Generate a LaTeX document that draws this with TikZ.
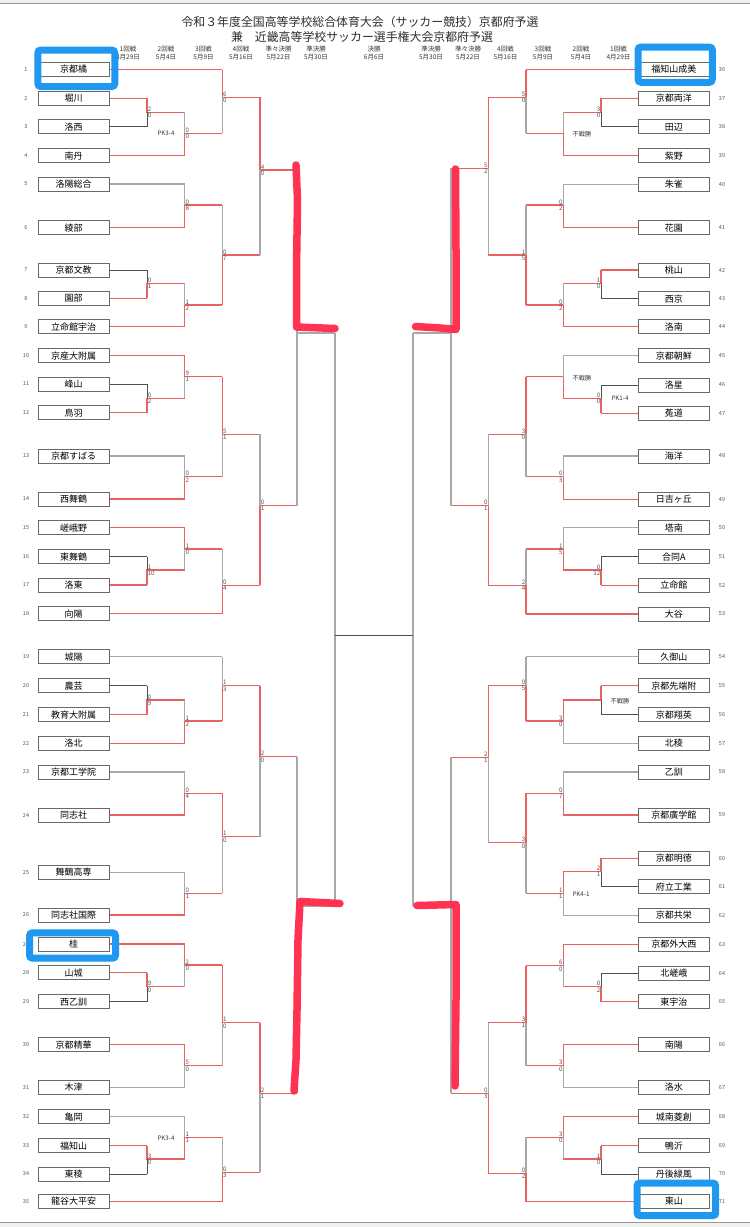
\documentclass[tikz,border=0pt]{standalone}
\usepackage{fontspec}
\setmainfont{Noto Sans CJK JP}
\definecolor{win}{RGB}{232,98,98}
\definecolor{losec}{RGB}{168,168,168}
\definecolor{darkc}{RGB}{80,80,80}
\definecolor{boxc}{RGB}{105,105,105}
\definecolor{handr}{RGB}{255,50,82}
\definecolor{hlblue}{RGB}{30,152,240}
\definecolor{scc}{RGB}{85,85,85}
\newcount\sccount
\tikzset{
 team/.style={draw=boxc, fill=white, line width=0.9pt, minimum width=71.3pt, minimum height=14pt, inner sep=0pt, font=\fontsize{9}{9}\selectfont},
 tnum/.style={font=\fontsize{5.5}{5.5}\selectfont, text=scc, inner sep=0pt},
 score/.style={font=\fontsize{6.2}{6.2}\selectfont, text=scc, inner sep=0.6pt},
 pknote/.style={font=\fontsize{6.2}{6.2}\selectfont, text=black!80, inner sep=0pt},
 hdr/.style={font=\fontsize{6.5}{8.5}\selectfont, text=black!80, inner sep=0pt, align=center},
 ttl/.style={font=\fontsize{11.9}{12}\selectfont, text=black!82, inner sep=0pt},
 wline/.style={draw=win, line width=1.2pt},
 lline/.style={draw=losec, line width=1.2pt},
 dline/.style={draw=darkc, line width=0.8pt},
 handred/.style={draw=handr, line width=7.5pt, line cap=round, line join=round},
 hlbox/.style={draw=hlblue, line width=7pt, rounded corners=3pt},
}
% match: x, ytop, ybot, yjunction, winner(1/2), loser style, next x, score top, score bottom
\newcommand\M[9]{%
 \ifnum#5=1
  \draw[wline] (#1,#2) -- (#1,#4) -- (#7,#4);
  \draw[#6] (#1,#4) -- (#1,#3);
 \else
  \draw[wline] (#1,#3) -- (#1,#4) -- (#7,#4);
  \draw[#6] (#1,#4) -- (#1,#2);
 \fi
 \global\advance\sccount by 1
 \ifdim#7pt>#1pt
  \node[score,anchor=south west] (sa\the\sccount) at (#1,#4) {#8};
  \node[score,anchor=north west] (sb\the\sccount) at (#1,#4) {#9};
 \else
  \node[score,anchor=south east] (sa\the\sccount) at (#1,#4) {#8};
  \node[score,anchor=north east] (sb\the\sccount) at (#1,#4) {#9};
 \fi}
\newcommand\tl[3]{\node[team] (t#1) at (73.7,#2) {#3}; \node[tnum] (n#1) at (26,#2) {#1};}
\newcommand\tr[3]{\node[team] (t#1) at (673.8,#2) {#3}; \node[tnum] (n#1) at (722,#2) {#1};}
\newcommand\inl[3]{\draw[#3] (t#1.east) -- (t#1.east -| #2);}
\newcommand\inr[3]{\draw[#3] (t#1.west) -- (t#1.west -| #2);}
\begin{document}
\begin{tikzpicture}[x=1pt,y=-1pt]
\useasboundingbox (0,0) rectangle (750,1227);
\fill[white] (0,0) rectangle (750,1227);
\fill[black!6] (0,0) rectangle (750,3);
\draw[black!40,line width=0.8pt] (0,3.5) -- (750,3.5);
\draw[black!40,line width=0.8pt] (0,1222.6) -- (750,1222.6);
\fill[black!6] (0,1223) rectangle (750,1227);
% columns
\coordinate (L1) at (147,0); \coordinate (L2) at (184.7,0); \coordinate (L3) at (222.3,0);
\coordinate (L4) at (260,0); \coordinate (LQ) at (297,0); \coordinate (LS) at (335,0);
\coordinate (RS) at (413,0); \coordinate (RQ) at (451,0); \coordinate (R4) at (488.3,0);
\coordinate (R3) at (526,0); \coordinate (R2) at (563.3,0); \coordinate (R1) at (601,0);
% title
\node[ttl] (title1) at (360,22) {令和３年度全国高等学校総合体育大会（サッカー競技）京都府予選};
\node[ttl] (title2) at (362,37) {兼　近畿高等学校サッカー選手権大会京都府予選};
% header
\node[hdr] (h1) at (128,53) {1回戦\\4月29日};
\node[hdr] (h2) at (166,53) {2回戦\\5月4日};
\node[hdr] (h3) at (203.5,53) {3回戦\\5月9日};
\node[hdr] (h4) at (241,53) {4回戦\\5月16日};
\node[hdr] (h5) at (278.5,53) {準々決勝\\5月22日};
\node[hdr] (h6) at (316,53) {準決勝\\5月30日};
\node[hdr] (h7) at (374,53) {決勝\\6月6日};
\node[hdr] (h8) at (431,53) {準決勝\\5月30日};
\node[hdr] (h9) at (468,53) {準々決勝\\5月22日};
\node[hdr] (h10) at (505.5,53) {4回戦\\5月16日};
\node[hdr] (h11) at (543,53) {3回戦\\5月9日};
\node[hdr] (h12) at (581,53) {2回戦\\5月4日};
\node[hdr] (h13) at (618.5,53) {1回戦\\4月29日};
% teams left
\tl{1}{69.5}{京都橘}
\tl{2}{98.3}{堀川}
\tl{3}{126.7}{洛西}
\tl{4}{155.7}{南丹}
\tl{5}{184}{洛陽総合}
\tl{6}{227.7}{綾部}
\tl{7}{270}{京都文教}
\tl{8}{298.3}{園部}
\tl{9}{326.7}{立命館宇治}
\tl{10}{355.7}{京産大附属}
\tl{11}{384}{峰山}
\tl{12}{412.7}{鳥羽}
\tl{13}{456}{京都すばる}
\tl{14}{499}{西舞鶴}
\tl{15}{527.7}{嵯峨野}
\tl{16}{556.7}{東舞鶴}
\tl{17}{585}{洛東}
\tl{18}{613.7}{向陽}
\tl{19}{656.7}{城陽}
\tl{20}{685.7}{農芸}
\tl{21}{714.7}{教育大附属}
\tl{22}{743.3}{洛北}
\tl{23}{772}{京都工学院}
\tl{24}{815}{同志社}
\tl{25}{872.3}{舞鶴高専}
\tl{26}{915}{同志社国際}
\tl{27}{944}{桂}
\tl{28}{972.7}{山城}
\tl{29}{1001.7}{西乙訓}
\tl{30}{1044.7}{京都精華}
\tl{31}{1087.3}{木津}
\tl{32}{1116.7}{亀岡}
\tl{33}{1145.7}{福知山}
\tl{34}{1174}{東稜}
\tl{35}{1201.5}{龍谷大平安}
% teams right
\tr{36}{69.5}{福知山成美}
\tr{37}{98.3}{京都両洋}
\tr{38}{126.7}{田辺}
\tr{39}{155.7}{紫野}
\tr{40}{184.3}{朱雀}
\tr{41}{227.7}{花園}
\tr{42}{270}{桃山}
\tr{43}{298.7}{西京}
\tr{44}{326.7}{洛南}
\tr{45}{355.7}{京都朝鮮}
\tr{46}{385}{洛星}
\tr{47}{413.3}{菟道}
\tr{48}{456}{海洋}
\tr{49}{499.3}{日吉ヶ丘}
\tr{50}{527.7}{塔南}
\tr{51}{556.7}{合同A}
\tr{52}{585.3}{立命館}
\tr{53}{614}{大谷}
\tr{54}{656.7}{久御山}
\tr{55}{685.7}{京都先端附}
\tr{56}{714.7}{京都翔英}
\tr{57}{743.3}{北稜}
\tr{58}{772}{乙訓}
\tr{59}{815}{京都廣学館}
\tr{60}{858.3}{京都明徳}
\tr{61}{886.7}{府立工業}
\tr{62}{915.3}{京都共栄}
\tr{63}{944.3}{京都外大西}
\tr{64}{973.3}{北嵯峨}
\tr{65}{1001.7}{東宇治}
\tr{66}{1044.7}{南陽}
\tr{67}{1087.3}{洛水}
\tr{68}{1116.7}{城南菱創}
\tr{69}{1145.7}{鴨沂}
\tr{70}{1174}{丹後緑風}
\tr{71}{1201.5}{東山}
% input lines left
\inl{1}{L3}{wline} \inl{2}{L1}{wline} \inl{3}{L1}{dline} \inl{4}{L2}{wline}
\inl{5}{L2}{lline} \inl{6}{L2}{wline} \inl{7}{L1}{dline} \inl{8}{L1}{wline}
\inl{9}{L2}{wline} \inl{10}{L2}{wline} \inl{11}{L1}{dline} \inl{12}{L1}{wline}
\inl{13}{L2}{lline} \inl{14}{L2}{wline} \inl{15}{L2}{wline} \inl{16}{L1}{dline}
\inl{17}{L1}{wline} \inl{18}{L3}{wline} \inl{19}{L3}{lline} \inl{20}{L1}{dline}
\inl{21}{L1}{wline} \inl{22}{L2}{wline} \inl{23}{L2}{lline} \inl{24}{L2}{wline}
\inl{25}{L2}{lline} \inl{26}{L2}{wline} \inl{27}{L2}{wline} \inl{28}{L1}{wline}
\inl{29}{L1}{dline} \inl{30}{L2}{wline} \inl{31}{L2}{lline} \inl{32}{L2}{lline}
\inl{33}{L1}{wline} \inl{34}{L1}{dline} \inl{35}{L3}{wline}
% input lines right
\inr{36}{R3}{wline} \inr{37}{R1}{wline} \inr{38}{R1}{dline} \inr{39}{R2}{wline}
\inr{40}{R2}{lline} \inr{41}{R2}{wline} \inr{42}{R1}{wline} \inr{43}{R1}{dline}
\inr{44}{R2}{wline} \inr{45}{R2}{lline} \inr{46}{R1}{dline} \inr{47}{R1}{wline}
\inr{48}{R2}{lline} \inr{49}{R2}{wline} \inr{50}{R2}{lline} \inr{51}{R1}{dline}
\inr{52}{R1}{wline} \inr{53}{R3}{wline} \inr{54}{R3}{lline} \inr{55}{R1}{wline}
\inr{56}{R1}{dline} \inr{57}{R2}{lline} \inr{58}{R2}{lline} \inr{59}{R2}{wline}
\inr{60}{R1}{wline} \inr{61}{R1}{dline} \inr{62}{R2}{lline} \inr{63}{R2}{wline}
\inr{64}{R1}{dline} \inr{65}{R1}{wline} \inr{66}{R2}{wline} \inr{67}{R2}{lline}
\inr{68}{R2}{wline} \inr{69}{R1}{wline} \inr{70}{R1}{dline} \inr{71}{R3}{wline}
% left matches
\M{147}{98.3}{126.7}{112.3}{1}{dline}{184.7}{2}{0}
\M{147}{270}{298.3}{283.3}{2}{dline}{184.7}{0}{1}
\M{147}{384}{412.7}{398.3}{2}{dline}{184.7}{0}{2}
\M{147}{556.7}{585}{570}{2}{dline}{184.7}{1}{10}
\M{147}{685.7}{714.7}{700}{2}{dline}{184.7}{0}{9}
\M{147}{972.7}{1001.7}{986.7}{1}{dline}{184.7}{9}{0}
\M{147}{1145.7}{1174}{1159}{1}{dline}{184.7}{3}{0}
\M{184.7}{112.3}{155.7}{133.3}{2}{lline}{222.3}{0}{0}
\M{184.7}{184}{227.7}{205}{2}{lline}{222.3}{0}{8}
\M{184.7}{283.3}{326.7}{305}{2}{lline}{222.3}{1}{2}
\M{184.7}{355.7}{398.3}{376.7}{1}{lline}{222.3}{9}{1}
\M{184.7}{456}{499}{476.7}{2}{lline}{222.3}{0}{2}
\M{184.7}{527.7}{570}{549}{1}{lline}{222.3}{1}{0}
\M{184.7}{700}{743.3}{721}{2}{lline}{222.3}{1}{2}
\M{184.7}{772}{815}{793.3}{2}{lline}{222.3}{0}{4}
\M{184.7}{872.3}{915}{893.3}{2}{lline}{222.3}{0}{1}
\M{184.7}{944}{986.7}{965}{1}{lline}{222.3}{2}{0}
\M{184.7}{1044.7}{1087.3}{1065.7}{1}{lline}{222.3}{5}{0}
\M{184.7}{1116.7}{1159}{1137.3}{2}{lline}{222.3}{1}{1}
\M{222.3}{69.5}{133.3}{97.3}{1}{lline}{260}{6}{0}
\M{222.3}{205}{305}{255}{2}{lline}{260}{0}{7}
\M{222.3}{376.7}{476.7}{434.3}{1}{lline}{260}{5}{1}
\M{222.3}{549}{613.7}{585.3}{2}{lline}{260}{0}{4}
\M{222.3}{656.7}{721}{685.7}{2}{lline}{260}{1}{3}
\M{222.3}{793.3}{893.3}{836.7}{1}{lline}{260}{1}{0}
\M{222.3}{965}{1065.7}{1022.7}{1}{lline}{260}{1}{0}
\M{222.3}{1137.3}{1201.5}{1172.3}{2}{lline}{260}{0}{3}
\M{260}{97.3}{255}{170}{1}{lline}{297}{4}{0}
\M{260}{434.3}{585.3}{505.7}{2}{lline}{297}{0}{1}
\M{260}{685.7}{836.7}{756.7}{1}{lline}{297}{2}{0}
\M{260}{1022.7}{1172.3}{1093.3}{1}{lline}{297}{2}{1}
% right matches
\M{601}{98.3}{126.7}{112.3}{1}{dline}{563.3}{3}{0}
\M{601}{270}{298.7}{283.3}{1}{dline}{563.3}{1}{0}
\M{601}{385}{413.3}{398.3}{2}{dline}{563.3}{0}{0}
\M{601}{556.7}{585.3}{570}{2}{dline}{563.3}{0}{12}
\M{601}{685.7}{714.7}{700}{1}{dline}{563.3}{}{}
\M{601}{858.3}{886.7}{871.7}{1}{dline}{563.3}{2}{1}
\M{601}{973.3}{1001.7}{986.7}{2}{dline}{563.3}{0}{2}
\M{601}{1145.7}{1174}{1159}{1}{dline}{563.3}{1}{0}
\M{563.3}{112.3}{155.7}{133.3}{2}{lline}{526}{}{}
\M{563.3}{184.3}{227.7}{205}{2}{lline}{526}{0}{2}
\M{563.3}{283.3}{326.7}{305}{2}{lline}{526}{0}{2}
\M{563.3}{355.7}{398.3}{376.7}{2}{lline}{526}{}{}
\M{563.3}{456}{499.3}{476.7}{2}{lline}{526}{0}{3}
\M{563.3}{527.7}{570}{549}{2}{lline}{526}{1}{5}
\M{563.3}{700}{743.3}{721}{1}{lline}{526}{3}{0}
\M{563.3}{772}{815}{793.3}{2}{lline}{526}{0}{7}
\M{563.3}{871.7}{915.3}{893.3}{1}{lline}{526}{1}{1}
\M{563.3}{944.3}{986.7}{965.7}{1}{lline}{526}{6}{0}
\M{563.3}{1044.7}{1087.3}{1065.7}{1}{lline}{526}{3}{0}
\M{563.3}{1116.7}{1159}{1137.3}{1}{lline}{526}{3}{0}
\M{526}{69.5}{133.3}{97.3}{1}{lline}{488.3}{5}{0}
\M{526}{205}{305}{255}{2}{lline}{488.3}{1}{5}
\M{526}{376.7}{476.7}{434.3}{1}{lline}{488.3}{3}{0}
\M{526}{549}{614}{585.3}{2}{lline}{488.3}{2}{4}
\M{526}{656.7}{721}{685.7}{2}{lline}{488.3}{0}{5}
\M{526}{793.3}{893.3}{842.7}{1}{lline}{488.3}{3}{0}
\M{526}{965.7}{1065.7}{1022.7}{1}{lline}{488.3}{3}{1}
\M{526}{1137.3}{1201.5}{1173.3}{2}{lline}{488.3}{0}{2}
\M{488.3}{97.3}{255}{168.3}{1}{lline}{451}{5}{2}
\M{488.3}{434.3}{585.3}{505.7}{2}{lline}{451}{0}{1}
\M{488.3}{685.7}{842.7}{757.3}{1}{lline}{451}{2}{1}
\M{488.3}{1022.7}{1173.3}{1093.3}{2}{lline}{451}{0}{3}
% quarter finals, semis, final
\coordinate (qlt) at (297,170); \coordinate (qlb) at (297,505.7); \coordinate (qlj) at (297,333);
\coordinate (qlt2) at (297,756.7); \coordinate (qlb2) at (297,1093.3); \coordinate (qlj2) at (297,906);
\coordinate (slt) at (335,333); \coordinate (slb) at (335,906); \coordinate (slj) at (335,635);
\coordinate (qrt) at (451,168.3); \coordinate (qrb) at (451,505.7); \coordinate (qrj) at (451,333);
\coordinate (qrt2) at (451,757.3); \coordinate (qrb2) at (451,1093.3); \coordinate (qrj2) at (451,906);
\coordinate (srt) at (413,333); \coordinate (srb) at (413,906); \coordinate (srj) at (413,635);
\draw[lline] (qlt) -- (qlb); \draw[lline] (qlj) -- (slt);
\draw[lline] (qlt2) -- (qlb2); \draw[lline] (qlj2) -- (slb);
\draw[lline] (slt) -- (slb);
\draw[lline] (qrt) -- (qrb); \draw[lline] (qrj) -- (srt);
\draw[lline] (qrt2) -- (qrb2); \draw[lline] (qrj2) -- (srb);
\draw[lline] (srt) -- (srb);
\draw[dline] (slj) -- (srj);
% notes
\node[pknote] (pk1) at (166,133.5) {PK3-4};
\node[pknote] (pk2) at (166,1138) {PK3-4};
\node[pknote] (pk3) at (620,398.5) {PK1-4};
\node[pknote] (pk4) at (581,894) {PK4-1};
\node[pknote] (fs1) at (582,134) {不戦勝};
\node[pknote] (fs2) at (582,378) {不戦勝};
\node[pknote] (fs3) at (620,701) {不戦勝};
% hand-drawn red marks
\draw[handred] (296,165) -- (297.5,200) -- (296.5,270) -- (296.5,327) -- (335,328.5);
\draw[handred] (415.5,326.5) -- (440,328) -- (456,329.5) -- (456,250) -- (455.5,169);
\draw[handred] (340,903.5) -- (300,901.5) -- (298,940) -- (297,1010) -- (296,1060) -- (294,1091);
\draw[handred] (417,905.5) -- (456,904.5) -- (456,1000) -- (455,1086);
% blue highlight boxes
\draw[hlbox] (37.8,50) rectangle (114.8,86.5);
\draw[hlbox] (638,47) rectangle (712.3,82.3);
\draw[hlbox] (29.5,932.8) rectangle (115.5,958.2);
\draw[hlbox] (637,1183) rectangle (715.7,1215.7);
\end{tikzpicture}
\end{document}
